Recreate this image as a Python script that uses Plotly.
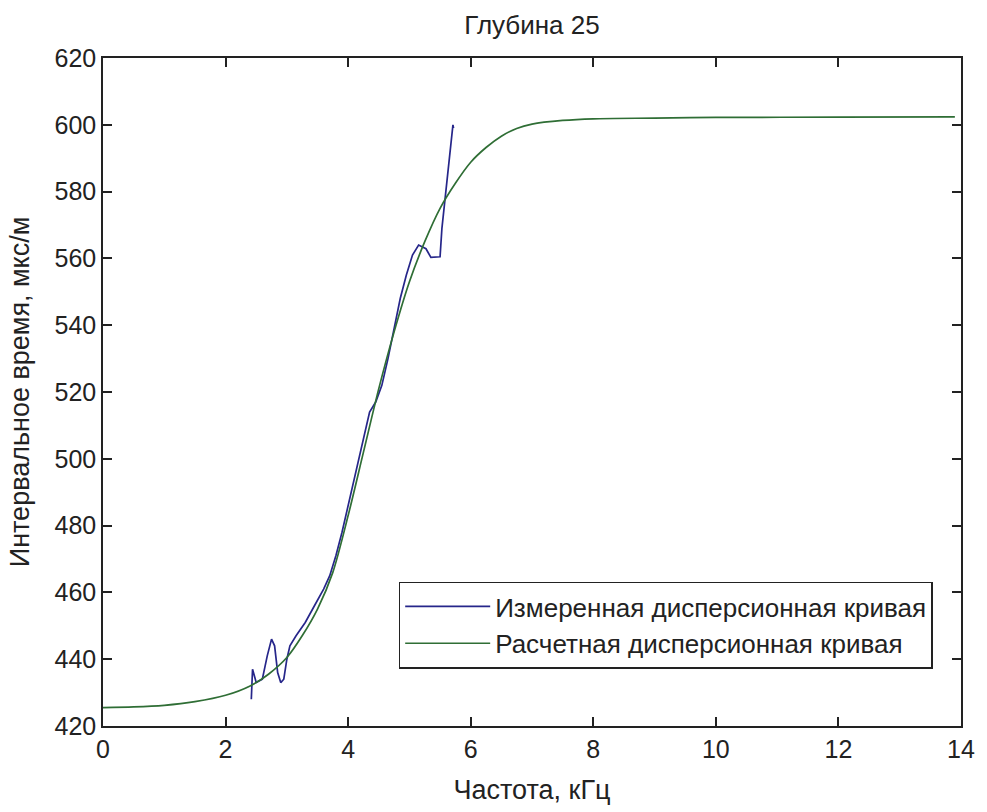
import plotly.graph_objects as go

# Measured dispersion curve (frequency, kHz -> interval time, us/m)
meas_freq = [2.42, 2.44, 2.50, 2.60, 2.68, 2.75, 2.80, 2.85, 2.90, 2.95, 3.00,
             3.05, 3.15, 3.30, 3.45, 3.60, 3.70, 3.80, 3.90, 4.00, 4.10, 4.20,
             4.30, 4.35, 4.45, 4.55, 4.65, 4.75, 4.85, 4.95, 5.05, 5.15, 5.27,
             5.35, 5.45, 5.50, 5.53, 5.58, 5.63, 5.68, 5.71, 5.72]
meas_time = [428, 437, 433, 434, 441, 446, 444, 436, 433, 434, 440,
             444, 447, 451, 456, 461, 465, 471, 478, 486, 494, 503,
             511, 514, 517, 522, 530, 539, 548, 555, 561, 564, 562.9,
             560.3, 560.3, 560.5, 569, 578, 587, 596, 600, 599]

# Calculated dispersion curve
calc_freq = [0, 0.5, 1.0, 1.5, 2.0, 2.4, 2.7, 3.0, 3.25, 3.5, 3.75, 4.0, 4.25,
             4.5, 4.75, 5.0, 5.25, 5.5, 5.75, 6.0, 6.25, 6.5, 6.75, 7.0, 7.5,
             8.0, 9.0, 10.0, 12.0, 13.9]
calc_time = [425.5, 425.7, 426.2, 427.3, 429.2, 432, 435.5, 440.5, 447, 455, 466,
             483, 502, 521, 538, 553, 565, 575, 582.5, 588.8, 593.2, 596.6, 598.9,
             600.2, 601.3, 601.8, 602, 602.2, 602.3, 602.4]

x_ticks = [0, 2, 4, 6, 8, 10, 12, 14]
y_ticks = [420, 440, 460, 480, 500, 520, 540, 560, 580, 600, 620]

FONT = "Liberation Sans, Arial, sans-serif"
INK = "#222222"

fig = go.Figure()
fig.add_trace(go.Scatter(x=meas_freq, y=meas_time, mode="lines",
                         name="Измеренная дисперсионная кривая",
                         line=dict(color="#26268a", width=1.7)))
fig.add_trace(go.Scatter(x=calc_freq, y=calc_time, mode="lines",
                         line=dict(color="#2f6e35", width=1.7, shape="spline", smoothing=0.8),
                         name="Расчетная дисперсионная кривая"))

axis_common = dict(showgrid=False, zeroline=False, showline=True, linecolor=INK,
                   linewidth=1.5, mirror="ticks", ticks="inside", ticklen=9,
                   tickcolor=INK, tickwidth=1.5,
                   tickfont=dict(family=FONT, size=25, color=INK))

fig.update_layout(
    width=987, height=812,
    margin=dict(l=103, r=15, t=58, b=71),
    paper_bgcolor="white", plot_bgcolor="white",
    font=dict(family=FONT, color=INK),
    title=dict(text="Глубина 25", x=0.5, xref="paper", xanchor="center",
               y=0.981, yref="container", yanchor="top",
               font=dict(family=FONT, size=26, color=INK)),
    xaxis=dict(range=[0, 14], tickvals=x_ticks,
               title=dict(text="Частота, кГц", standoff=18,
                          font=dict(family=FONT, size=27, color=INK)),
               **axis_common),
    yaxis=dict(range=[420, 620], tickvals=y_ticks,
               title=dict(text="Интервальное время, мкс/м", standoff=17,
                          font=dict(family=FONT, size=27, color=INK)),
               **axis_common),
    legend=dict(x=0.967, y=0.086, xanchor="right", yanchor="bottom",
                bgcolor="white", bordercolor=INK, borderwidth=1.5,
                font=dict(family=FONT, size=26, color=INK),
                itemwidth=85, tracegroupgap=0),
    showlegend=True,
)

fig.write_html("out.html")
